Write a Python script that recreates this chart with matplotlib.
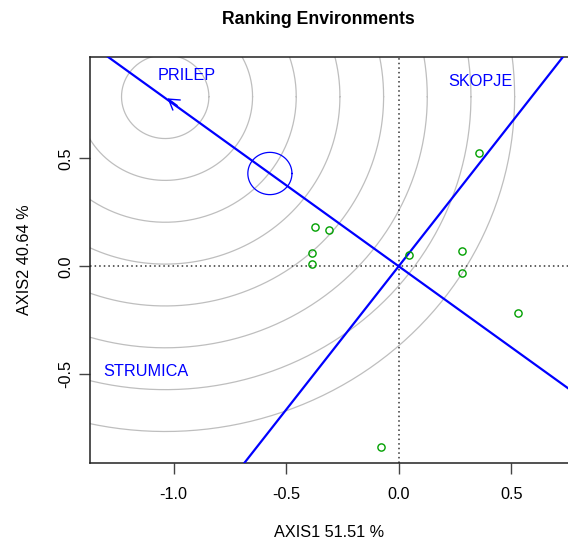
import numpy as np
import matplotlib
matplotlib.use('Agg')
import matplotlib.pyplot as plt
from matplotlib.patches import FancyArrowPatch

plt.rcParams['font.family'] = ['Liberation Sans', 'DejaVu Sans']

# genotype scores (AXIS1, AXIS2)
gen_x = [0.355, -0.371, -0.310, -0.384, -0.384, 0.046, 0.279, 0.279, 0.532, -0.077]
gen_y = [0.527, 0.181, 0.169, 0.061, 0.009, 0.051, 0.071, -0.032, -0.218, -0.837]

# environment labels
env_names = ['PRILEP', 'SKOPJE', 'STRUMICA']
env_x = [-0.940, 0.362, -1.122]
env_y = [0.882, 0.855, -0.490]

# average environment point and ideal environment (ring centre)
avg_env = (-0.572, 0.430)
ideal_env = (-1.037, 0.786)
ring_step = 0.194
n_rings = 8

fig = plt.figure(figsize=(5.68, 5.43), dpi=100)
ax = fig.add_axes([90/568, 80/543, 478/568, 406/543])

# concentric circles round the ideal environment
t = np.linspace(0, 2*np.pi, 400)
for k in range(1, n_rings + 1):
    r = k * ring_step
    ax.plot(ideal_env[0] + r*np.cos(t), ideal_env[1] + r*np.sin(t),
            color='#BEBEBE', linewidth=0.9, zorder=1)

# dotted axes through origin
ax.axhline(0, color='#333333', linestyle=(0, (1, 2)), linewidth=1.1, zorder=2)
ax.axvline(0, color='#333333', linestyle=(0, (1, 2)), linewidth=1.1, zorder=2)

# average environment axis and its perpendicular
slope = avg_env[1] / avg_env[0]
xx = np.array([-3, 3])
ax.plot(xx, slope*xx, color='#0000FF', linewidth=1.6, zorder=3)
ax.plot(xx, -xx/slope, color='#0000FF', linewidth=1.6, zorder=3)

# small arrow head at the ideal environment
d = np.array(ideal_env) - np.array(avg_env)
start = np.array(ideal_env) - 0.08 * d / np.linalg.norm(d)
arr = FancyArrowPatch(tuple(start), ideal_env, arrowstyle='->,head_length=4,head_width=2.5',
                      color='#0000FF', linewidth=1.0, mutation_scale=1.8, zorder=4)
ax.add_patch(arr)

# circle at average environment
ax.plot(avg_env[0] + 0.098*np.cos(t), avg_env[1] + 0.098*np.sin(t),
        color='#0000FF', linewidth=0.9, zorder=4)

ax.plot(gen_x, gen_y, linestyle='none', marker='o', markersize=5.2,
        markerfacecolor='none', markeredgecolor='#00A000', markeredgewidth=1.0, zorder=5)

for n, x, y in zip(env_names, env_x, env_y):
    ax.text(x, y, n, color='#0000FF', fontsize=11.7, ha='center', va='center', zorder=6)

ax.set_xlim(-1.371, 0.752)
ax.set_ylim(-0.912, 0.970)
ax.set_xticks([-1.0, -0.5, 0.0, 0.5])
ax.set_yticks([-0.5, 0.0, 0.5])
ax.set_xticklabels(['-1.0', '-0.5', '0.0', '0.5'])
ax.set_yticklabels(['-0.5', '0.0', '0.5'], rotation=90, va='center')
ax.tick_params(direction='out', length=8, width=1, color='#444444', labelsize=11.7)
ax.tick_params(axis='x', pad=9)
ax.tick_params(axis='y', pad=4)
ax.spines['right'].set_visible(False)
for s in ['left', 'bottom', 'top']:
    ax.spines[s].set_color('#222222')
    ax.spines[s].set_linewidth(1.1)

ax.set_xlabel('AXIS1 51.51 %', fontsize=11.7, labelpad=17)
ax.set_ylabel('AXIS2 40.64 %', fontsize=11.7, labelpad=19)
fig.text(318/568, 1 - 20/543, 'Ranking Environments', fontsize=12.7, fontweight='bold',
         ha='center', va='center')

fig.savefig('out.png', dpi=100)
